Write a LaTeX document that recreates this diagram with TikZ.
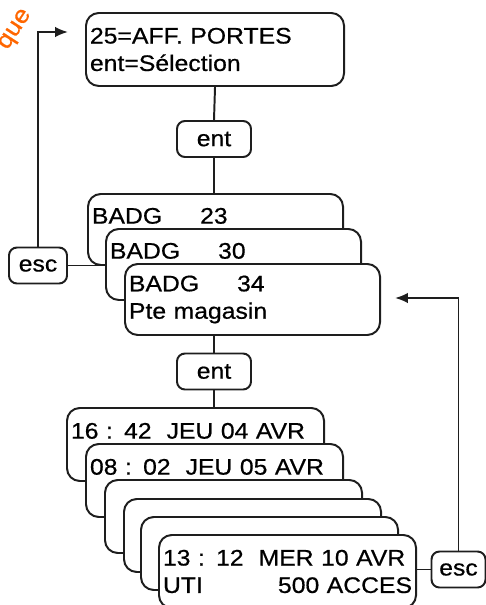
\documentclass[tikz,border=0pt]{standalone}
\usepackage{fontspec}
\setmainfont{Liberation Sans}[FakeStretch=1.1,FakeBold=0.6]
\usepackage{tikz}
\usetikzlibrary{arrows.meta}
\definecolor{lcdInk}{RGB}{30,30,30}
\definecolor{stampOrange}{RGB}{255,102,0}

\begin{document}
\begin{tikzpicture}[
      x=0.025cm, y=-0.025cm,
      font=\fontsize{16pt}{19.5pt}\selectfont,
      >={Latex[length=3.2mm,width=2.6mm]},
      lcd/.style={rectangle,rounded corners=0.32cm,draw=lcdInk,fill=white,
                  line width=1.4pt,anchor=north west,align=left,
                  inner xsep=0.1cm,inner ysep=0pt},
      head/.style={lcd,text width=6.25cm,minimum height=1.825cm},
      badg/.style={lcd,text width=6.175cm,minimum height=1.775cm},
      stamp/.style={lcd,text width=6.225cm,minimum height=1.825cm},
      key/.style={rectangle,rounded corners=0.2cm,draw=lcdInk,fill=white,
                  line width=1.4pt,inner sep=0pt,minimum height=0.9cm},
      ln/.style={draw=lcdInk,line width=1.4pt},
      ar/.style={->,lcdInk,line width=1.4pt}]

    \useasboundingbox (0,0) rectangle (486,605);

    % ---------- watermark ----------
    \node[stampOrange,rotate=57,font=\fontsize{17pt}{17pt}\selectfont] (wm) at (16,30) {que};

    % ---------- menu and selection ----------
    \node[head] (menu) at (85,12) {25=AFF. PORTES\\ent=Sélection};
    \node[key,minimum width=1.85cm] (ent1) at (214,139) {ent};
    \draw[ln] (menu.south) -- (ent1.north);

    % ---------- badge list ----------
    \node[badg] (badgA) at (87,193)  {BADG\hspace{0.95cm}23\\~};
    \node[badg] (badgB) at (105,228) {BADG\hspace{0.95cm}30\\~};
    \node[badg] (badgC) at (124,263) {BADG\hspace{0.95cm}34\\Pte magasin};
    \draw[ln] (ent1.south) -- (ent1 |- badgA.north);

    \node[key,minimum width=1.45cm] (escL) at (38,265.5) {esc};
    \coordinate (backA) at (68,32);
    \draw[ln] (escL.east) -- (escL -| badgB.west);
    \draw[ar] (escL.north) |- (backA);

    % ---------- event log ----------
    \node[key,minimum width=1.85cm] (ent2) at (214,371.5) {ent};
    \draw[ln] (ent2 |- badgC.south) -- (ent2.north);

    \node[stamp] (dateA) at (66,407)  {\mbox{16 : 42~~JEU 04 AVR}\\~};
    \node[stamp] (dateB) at (85,443)  {\mbox{08 : 02~~JEU 05 AVR}\\~};
    \node[stamp] (dateC) at (104,479) {~\\~};
    \node[stamp] (dateD) at (123,498) {~\\~};
    \node[stamp] (dateE) at (140,516) {~\\~};
    \node[stamp] (dateF) at (158,534) {\mbox{13 : 12~~MER 10 AVR}\\UTI\hfill 500 ACCES};
    \draw[ln] (ent2.south) -- (ent2 |- dateA.north);

    \node[key,minimum width=1.35cm] (escR) at (458.5,569.5) {esc};
    \coordinate (backB) at (395,298);
    \draw[ln] (escR.west) -- (escR -| dateF.east);
    \draw[ar] (escR.north) |- (backB);
  \end{tikzpicture}
\end{document}
